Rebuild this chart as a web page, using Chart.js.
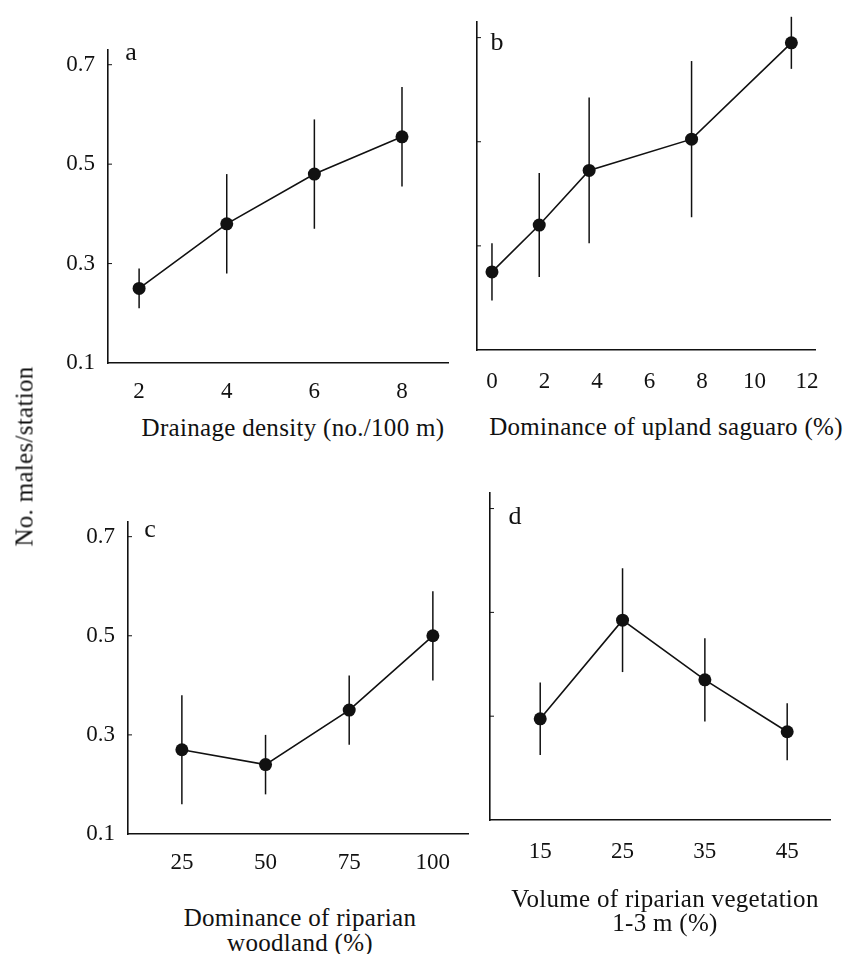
<!DOCTYPE html>
<html>
<head>
<meta charset="utf-8">
<script src="https://cdn.jsdelivr.net/npm/chart.js@4.4.1/dist/chart.umd.min.js"></script>
<style>
  body { margin: 0; background: #fff; }
  #fig { position: relative; width: 851px; height: 954px; overflow: hidden; font-family: "Liberation Serif", serif; color: #111; }
  #fig canvas { position: absolute; }
  .lbl { position: absolute; white-space: nowrap; text-align: center; }
  .title { letter-spacing: 0.3px; }
</style>
</head>
<body>
<div id="fig"></div>
<script>
// shared y ticks
const yTicks = [0.1, 0.3, 0.5, 0.7];

// a: drainage density
const drainX = [2, 4, 6, 8];
const drainY = [0.25, 0.38, 0.48, 0.555];
const drainErr = [0.04, 0.10, 0.11, 0.10];
const drainTicks = [2, 4, 6, 8];

// b: upland saguaro
const saguaroX = [0, 1.8, 3.7, 7.6, 11.4];
const saguaroY = [0.25, 0.34, 0.445, 0.505, 0.69];
const saguaroErr = [0.055, 0.10, 0.14, 0.15, 0.05];
const saguaroTicks = [0, 2, 4, 6, 8, 10, 12];

// c: riparian woodland
const woodX = [25, 50, 75, 100];
const woodY = [0.27, 0.24, 0.35, 0.50];
const woodErr = [0.11, 0.06, 0.07, 0.09];
const woodTicks = [25, 50, 75, 100];

// d: riparian vegetation volume
const vegX = [15, 25, 35, 45];
const vegY = [0.295, 0.485, 0.37, 0.27];
const vegErr = [0.07, 0.10, 0.08, 0.055];
const vegTicks = [15, 25, 35, 45];

const INK = '#111';
const YW = 60, PT = 10, PR = 25, XH = 50;
const fig = document.getElementById('fig');

// vertical error bars, drawn under the points
const errorBars = {
    id: 'errorBars',
    beforeDatasetsDraw(chart, args, opts) {
        const { ctx, scales: { x, y } } = chart;
        const pts = chart.data.datasets[0].data;
        ctx.save();
        ctx.strokeStyle = INK;
        ctx.lineWidth = 1.5;
        pts.forEach((p, i) => {
            const px = x.getPixelForValue(p.x);
            ctx.beginPath();
            ctx.moveTo(px, y.getPixelForValue(p.y - opts.err[i]));
            ctx.lineTo(px, y.getPixelForValue(p.y + opts.err[i]));
            ctx.stroke();
        });
        ctx.restore();
    }
};

// small inward tick marks on the y axis
const innerTicks = {
    id: 'innerTicks',
    afterDraw(chart) {
        const { ctx, chartArea, scales: { y } } = chart;
        ctx.save();
        ctx.strokeStyle = INK;
        ctx.lineWidth = 1;
        yTicks.slice(1).forEach(v => {
            const py = y.getPixelForValue(v);
            ctx.beginPath();
            ctx.moveTo(chartArea.left, py);
            ctx.lineTo(chartArea.left + 4, py);
            ctx.stroke();
        });
        ctx.restore();
    }
};

// cy is the centre of the first line
function addLabel(text, cx, cy, size, lineHeight, cls) {
    const el = document.createElement('div');
    el.className = 'lbl' + (cls ? ' ' + cls : '');
    el.innerHTML = text;
    el.style.fontSize = size + 'px';
    el.style.lineHeight = lineHeight + 'px';
    el.style.width = '420px';
    el.style.left = (cx - 210) + 'px';
    el.style.top = (cy - lineHeight / 2) + 'px';
    fig.appendChild(el);
    return el;
}

function makePanel(p) {
    const canvas = document.createElement('canvas');
    const w = p.area.right - p.area.left + YW + PR;
    const h = p.area.bottom - p.area.top + PT + XH;
    canvas.width = w;
    canvas.height = h;
    canvas.style.left = (p.area.left - YW) + 'px';
    canvas.style.top = (p.area.top - PT) + 'px';
    fig.appendChild(canvas);

    const tickFont = { family: 'Liberation Serif', size: 23 };
    new Chart(canvas, {
        type: 'line',
        data: {
            datasets: [{
                data: p.xs.map((x, i) => ({ x: x, y: p.ys[i] })),
                borderColor: INK,
                borderWidth: 1.6,
                backgroundColor: INK,
                pointBackgroundColor: INK,
                pointBorderColor: INK,
                pointRadius: 6.5,
                pointBorderWidth: 0,
                tension: 0
            }]
        },
        options: {
            responsive: false,
            animation: false,
            devicePixelRatio: 1,
            layout: { padding: { top: PT, right: PR, left: 0, bottom: 0 } },
            plugins: {
                legend: { display: false },
                tooltip: { enabled: false },
                errorBars: { err: p.err }
            },
            scales: {
                x: {
                    type: 'linear',
                    min: p.xMin,
                    max: p.xMax,
                    afterBuildTicks: s => { s.ticks = p.xTicks.map(v => ({ value: v })); },
                    afterFit: s => { s.height = XH; },
                    grid: { display: false, drawTicks: false },
                    border: { display: true, color: INK, width: 1.6 },
                    ticks: {
                        color: INK, font: tickFont, padding: p.xPad,
                        maxRotation: 0, autoSkip: false,
                        callback: v => String(v)
                    }
                },
                y: {
                    type: 'linear',
                    min: 0.1,
                    max: 0.73,
                    afterBuildTicks: s => { s.ticks = yTicks.map(v => ({ value: v })); },
                    afterFit: s => { s.width = YW; },
                    grid: { display: false, drawTicks: false },
                    border: { display: true, color: INK, width: 1.6 },
                    ticks: {
                        display: p.yLabels, color: INK, font: tickFont, padding: 13,
                        callback: v => v.toFixed(1)
                    }
                }
            }
        },
        plugins: [errorBars, innerTicks]
    });

    addLabel(p.letter, p.letterPos[0], p.letterPos[1], 26, 26);
}

makePanel({
    xs: drainX, ys: drainY, err: drainErr, xTicks: drainTicks,
    xMin: 1.29, xMax: 9.05, xPad: 15, yLabels: true,
    area: { left: 108, top: 33, right: 448, bottom: 363 },
    letter: 'a', letterPos: [131, 52]
});
makePanel({
    xs: saguaroX, ys: saguaroY, err: saguaroErr, xTicks: saguaroTicks,
    xMin: -0.57, xMax: 12.3, xPad: 18, yLabels: false,
    area: { left: 477, top: 22, right: 815, bottom: 350 },
    letter: 'b', letterPos: [497, 42]
});
makePanel({
    xs: woodX, ys: woodY, err: woodErr, xTicks: woodTicks,
    xMin: 8.9, xMax: 110.5, xPad: 15, yLabels: true,
    area: { left: 128, top: 505, right: 468, bottom: 834 },
    letter: 'c', letterPos: [150, 529]
});
makePanel({
    xs: vegX, ys: vegY, err: vegErr, xTicks: vegTicks,
    xMin: 8.9, xMax: 50.2, xPad: 18, yLabels: false,
    area: { left: 490, top: 493, right: 830, bottom: 820 },
    letter: 'd', letterPos: [515, 516]
});

// axis titles
addLabel('Drainage density (no./100 m)', 293, 427, 25, 25, 'title');
addLabel('Dominance of upland saguaro (%)', 666, 426, 25, 25, 'title');
addLabel('Dominance of riparian<br>woodland (%)', 300, 917, 25, 25, 'title');
addLabel('Volume of riparian vegetation<br>1-3 m (%)', 665, 899, 25, 24, 'title');

const yTitle = addLabel('No. males/station', 24, 456, 25, 25, 'title');
yTitle.style.transform = 'rotate(-90deg)';
</script>
</body>
</html>
